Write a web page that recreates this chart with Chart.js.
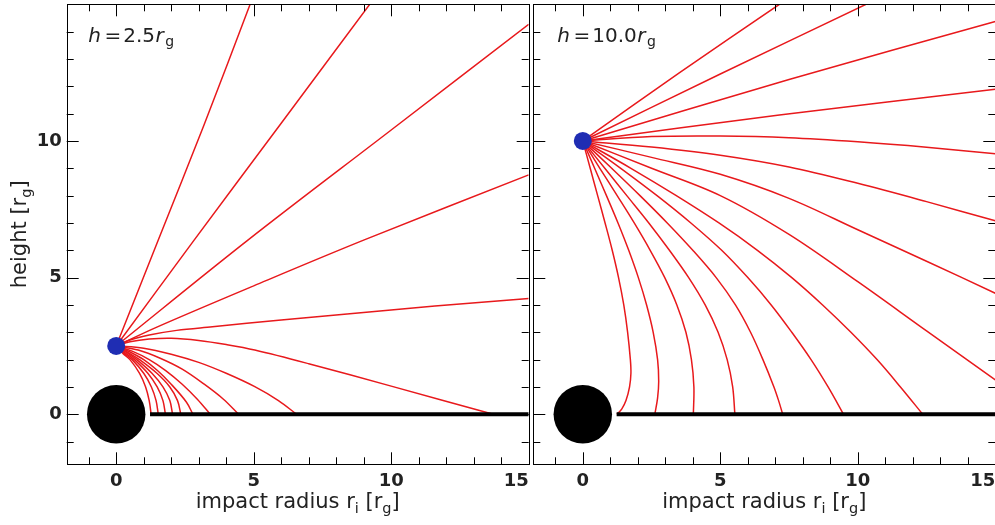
<!DOCTYPE html>
<html>
<head>
<meta charset="utf-8">
<script src="https://cdn.jsdelivr.net/npm/chart.js@4.4.1/dist/chart.umd.min.js"></script>
<style>
  html, body { margin: 0; padding: 0; background: #fff; overflow: hidden; }
  #wrap { position: relative; width: 995px; height: 525px; }
  #left { position: absolute; left: 0; top: 0; }
  #right { position: absolute; left: 531px; top: 0; }
</style>
</head>
<body>
<div id="wrap">
  <canvas id="left" width="531" height="525"></canvas>
  <canvas id="right" width="465" height="525"></canvas>
</div>
<script>
// axis ranges and labelled ticks (units of r_g)
const xRange = [-1.8, 15];
const yRange = [-1.83, 15];
const xTickLabels = [0, 5, 10, 15];
const yTickLabels = [0, 5, 10];
const minorStep = 1, majorStep = 5;

// source heights, horizon radius, disc inner/outer edge
const sourceHeights = [2.5, 10.0];
const horizon = 1.063;
const diskEdge = [1.23, 15];

// photon paths [x, y], source at h = 2.5
const raysH25 = [
  [[0,2.5],[1.53,6.38],[3.2,10.6],[4.87,15]],
  [[0,2.5],[2.84,6.38],[6,10.65],[9.22,15]],
  [[0,2.5],[4.8,6.38],[10,10.4],[15,14.27]],
  [[0,2.5],[1.5,3.2],[5,4.7],[9.02,6.38],[15,8.76]],
  [[0,2.5],[0.5,2.72],[1.2,2.9],[2.2,3.07],[3.5,3.2],[6,3.45],[11.59,3.96],[15,4.24]],
  [[0,2.5],[0.5,2.65],[1.2,2.75],[2,2.78],[3,2.7],[4,2.55],[5.04,2.35],[7,1.85],[10,1.03],[13.71,0]],
  [[0,2.5],[1,2.42],[2,2.2],[3,1.9],[4,1.5],[5.04,1.01],[5.9,0.5],[6.56,0]],
  [[0,2.5],[0.8,2.35],[1.6,2.05],[2.4,1.65],[3.2,1.1],[3.9,0.55],[4.45,0]],
  [[0,2.5],[0.6,2.3],[1.2,2.0],[1.8,1.6],[2.4,1.1],[2.95,0.55],[3.42,0]],
  [[0,2.5],[0.5,2.28],[1.0,2.0],[1.5,1.6],[2.0,1.1],[2.55,0.45],[2.79,0]],
  [[0,2.5],[0.45,2.25],[0.85,2.0],[1.48,1.5],[1.95,1.0],[2.23,0.5],[2.35,0]],
  [[0,2.5],[0.4,2.25],[0.75,2.0],[1.3,1.5],[1.7,1.0],[1.95,0.5],[2.05,0]],
  [[0,2.5],[0.35,2.23],[0.66,2.0],[1.15,1.5],[1.49,1.0],[1.7,0.5],[1.79,0]],
  [[0,2.5],[0.3,2.22],[0.58,2.0],[1.0,1.5],[1.28,1.0],[1.45,0.5],[1.53,0]],
  [[0,2.5],[0.27,2.2],[0.5,2.0],[0.85,1.5],[1.07,1.0],[1.2,0.5],[1.27,0]]
];

// photon paths, source at h = 10
const raysH10 = [
  [[0,10],[3.52,12.5],[7.15,15]],
  [[0,10],[5,12.45],[10.3,15]],
  [[0,10],[7.5,12.25],[15,14.37]],
  [[0,10],[7.15,10.95],[15,11.89]],
  [[0,10],[2.5,10.16],[5,10.18],[7.5,10.12],[10,9.97],[12.5,9.77],[15,9.53]],
  [[0,10],[2.5,9.78],[5,9.48],[7.5,9.05],[10,8.45],[12.5,7.78],[15,7.08]],
  [[0,10],[2.5,9.4],[5,8.78],[7.5,7.9],[10,6.75],[12.5,5.6],[15,4.43]],
  [[0,10],[2.5,9.0],[5,8.0],[7.5,6.58],[10,4.85],[12.5,3.05],[15,1.26]],
  [[0,10],[1.75,9],[3.4,8],[4.95,7],[6.35,6],[7.6,5],[8.72,4],[9.75,3],[10.7,2],[11.55,1],[12.36,0]],
  [[0,10],[1.38,9],[2.7,8],[3.93,7],[5.05,6],[6.0,5],[6.85,4],[7.6,3],[8.3,2],[8.92,1],[9.48,0]],
  [[0,10],[1.05,9],[2.08,8],[3.07,7],[4.0,6],[4.85,5],[5.55,4],[6.1,3],[6.55,2],[6.95,1],[7.12,0.5],[7.27,0]],
  [[0,10],[0.8,9],[1.6,8],[2.4,7],[3.15,6],[3.85,5],[4.45,4],[4.92,3],[5.25,2],[5.45,1],[5.53,0]],
  [[0,10],[0.62,9],[1.25,8],[1.87,7],[2.45,6],[2.98,5],[3.42,4],[3.75,3],[3.95,2],[4.04,1],[4.02,0]],
  [[0,10],[0.43,9],[0.86,8],[1.28,7],[1.67,6],[2.02,5],[2.32,4],[2.56,3],[2.72,2],[2.76,1.2],[2.72,0.6],[2.62,0]],
  [[0,10],[0.27,9],[0.54,8],[0.81,7],[1.07,6],[1.3,5],[1.49,4],[1.63,3],[1.73,2],[1.75,1.5],[1.7,1],[1.57,0.5],[1.42,0.2],[1.24,0]]
];

const red = '#e8191c';
const blue = '#1f2db3';
const ink = '#222222';
const family = "'DejaVu Sans'";

Chart.defaults.font.family = family;

// draws a run of text pieces: [text, font, dy, gapBefore]
function richText(ctx, parts, x, y, center) {
  let total = 0;
  parts.forEach(p => { ctx.font = p[1]; total += (p[3] || 0) + ctx.measureText(p[0]).width; });
  let cx = center ? x - total / 2 : x;
  parts.forEach(p => {
    ctx.font = p[1];
    cx += p[3] || 0;
    ctx.fillText(p[0], cx, y + (p[2] || 0));
    cx += ctx.measureText(p[0]).width;
  });
}

const titleFont = "21px " + family;
const subFont = "14.5px " + family;

const panelDecor = {
  id: 'panelDecor',
  afterDatasetsDraw(chart, args, opts) {
    const { ctx, chartArea: a, scales: { x, y } } = chart;
    ctx.save();
    ctx.strokeStyle = '#000';
    ctx.lineWidth = 1;
    ctx.beginPath();
    // inward ticks on all four sides
    for (let v = Math.ceil(x.min); v < x.max; v += minorStep) {
      const px = Math.round(x.getPixelForValue(v)) + 0.5;
      const len = v % majorStep === 0 ? 12 : 7;
      ctx.moveTo(px, a.bottom); ctx.lineTo(px, a.bottom - len);
      ctx.moveTo(px, a.top); ctx.lineTo(px, a.top + len);
    }
    for (let v = Math.ceil(y.min); v < y.max; v += minorStep) {
      const py = Math.round(y.getPixelForValue(v)) + 0.5;
      const len = v % majorStep === 0 ? 12 : 7;
      ctx.moveTo(a.left, py); ctx.lineTo(a.left + len, py);
      ctx.moveTo(a.right, py); ctx.lineTo(a.right - len, py);
    }
    ctx.stroke();
    ctx.strokeRect(Math.round(a.left) + 0.5, Math.round(a.top) + 0.5,
                   Math.round(a.right) - Math.round(a.left), Math.round(a.bottom) - Math.round(a.top));

    // h = ... r_g label
    ctx.fillStyle = ink;
    ctx.textBaseline = 'alphabetic';
    ctx.textAlign = 'left';
    const it = "italic 20px " + family, rm = "20px " + family;
    richText(ctx, [
      ['h', it], ['=', rm, 0, 3.5], [opts.hText, rm, 0, 2], ['r', it, 0, 0.5], ['g', "14px " + family, 4, 1.5]
    ], a.left + opts.labelDx, a.top + 37.7, false);
    ctx.restore();
  },
  afterDraw(chart, args, opts) {
    const { ctx, chartArea: a } = chart;
    ctx.save();
    ctx.fillStyle = ink;
    ctx.textBaseline = 'alphabetic';
    ctx.textAlign = 'left';
    richText(ctx, [
      ['impact radius r', titleFont], ['i', subFont, 4.5], [' [r', titleFont, 0, 0], ['g', subFont, 4.5], [']', titleFont]
    ], (a.left + a.right) / 2, 508.3, true);
    if (opts.showY) {
      ctx.translate(26, (a.top + a.bottom) / 2);
      ctx.rotate(-Math.PI / 2);
      richText(ctx, [['height [r', titleFont], ['g', subFont, 4.5], [']', titleFont]], 0, 0, true);
    }
    ctx.restore();
  }
};

function makePanel(id, rays, h, showY, pad, labelDx) {
  const datasets = rays.map(r => ({
    data: r.map(p => ({ x: p[0], y: p[1] })),
    showLine: true, borderColor: red, borderWidth: 1.5,
    pointRadius: 0, tension: 0.35, order: 3
  }));
  datasets.push({
    data: [{ x: diskEdge[0], y: 0 }, { x: diskEdge[1], y: 0 }],
    showLine: true, borderColor: '#000', borderWidth: 4, borderCapStyle: 'butt',
    pointRadius: 0, order: 2
  });
  datasets.push({
    data: [{ x: 0, y: 0 }],
    pointRadius: c => {
      const s = c.chart.scales.x;
      return s ? Math.abs(s.getPixelForValue(horizon) - s.getPixelForValue(0)) : 29;
    },
    backgroundColor: '#000', borderWidth: 0, order: 1
  });
  datasets.push({
    data: [{ x: 0, y: h }],
    pointRadius: 9, backgroundColor: blue, borderWidth: 0, order: 0
  });

  return new Chart(document.getElementById(id), {
    type: 'scatter',
    data: { datasets },
    options: {
      responsive: false,
      animation: false,
      events: [],
      layout: { padding: pad, autoPadding: false },
      plugins: {
        legend: { display: false },
        tooltip: { enabled: false },
        panelDecor: { showY, labelDx, hText: h.toFixed(1) }
      },
      scales: {
        x: {
          type: 'linear', min: xRange[0], max: xRange[1],
          grid: { display: false, drawTicks: false }, border: { display: false },
          afterBuildTicks: s => { s.ticks = [{ value: s.min }].concat(xTickLabels.map(v => ({ value: v }))); },
          ticks: {
            align: 'inner', autoSkip: false, maxRotation: 0, padding: 6.5, color: ink,
            font: { size: 18, weight: 'bold' },
            callback: v => xTickLabels.includes(v) ? String(v) : ''
          },
          afterFit: s => { s.height = 60.7; s.paddingLeft = 0; s.paddingRight = 0; }
        },
        y: {
          type: 'linear', display: showY, min: yRange[0], max: yRange[1],
          grid: { display: false, drawTicks: false }, border: { display: false },
          afterBuildTicks: s => { s.ticks = yTickLabels.map(v => ({ value: v })); },
          ticks: {
            autoSkip: false, padding: 5, color: ink,
            font: { size: 18, weight: 'bold' },
            callback: v => String(v)
          },
          afterFit: s => {
            if (showY) s.width = 66.7;
            s.paddingTop = 0; s.paddingBottom = 0;
          }
        }
      }
    },
    plugins: [panelDecor]
  });
}

makePanel('left', raysH25, sourceHeights[0], true, { left: 0, top: 4.3, right: 2.3, bottom: 0 }, 21.6);
makePanel('right', raysH10, sourceHeights[1], false, { left: 2.3, top: 4.3, right: 0.7, bottom: 0 }, 24);
</script>
</body>
</html>
